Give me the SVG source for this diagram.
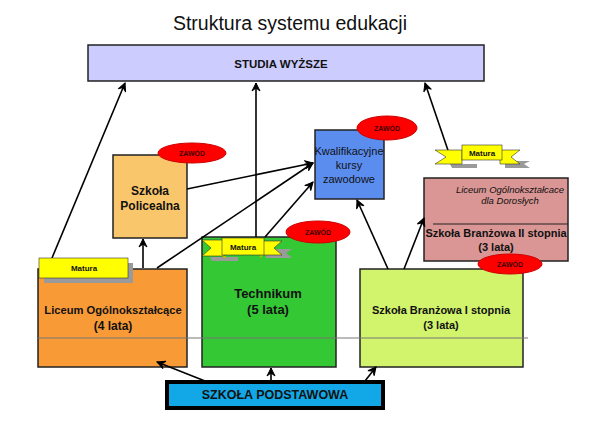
<svg xmlns="http://www.w3.org/2000/svg" width="596" height="432" viewBox="0 0 596 432">
<defs>
<marker id="arr" markerWidth="10" markerHeight="10" refX="9" refY="5" orient="auto" markerUnits="userSpaceOnUse">
<path d="M1,1 L9,5 L1,9 L4,5 Z" fill="#000" stroke="#000" stroke-width="1"/>
</marker>
</defs>
<style>
text{font-family:"Liberation Sans",Arial,sans-serif;text-anchor:middle;fill:#111}
.b{font-weight:bold}
.box{stroke:#222;stroke-width:1.5}
.zaw{fill:#f00;stroke:#c00;stroke-width:1}
.zt{font-size:7px;font-weight:bold;fill:#400}
.mt{font-size:8px;font-weight:bold}
.yel{fill:#ffff00;stroke:#333;stroke-width:0.6}
.sh{fill:#9a9a9a}
.con line{stroke:#000;stroke-width:1.6;marker-end:url(#arr)}
</style>
<rect width="596" height="432" fill="#fff"/>
<text x="290" y="30" font-size="19.5">Struktura systemu edukacji</text>

<g id="studia">
<rect class="box" x="88" y="45" width="396" height="36" fill="#ccccff" stroke-width="2.5"/>
<text x="281" y="68" class="b" font-size="11.5">STUDIA WYŻSZE</text>
</g>

<g id="policealna">
<rect class="box" x="113" y="155" width="74" height="83" fill="#f9c66c"/>
<text x="150" y="195" class="b" font-size="12">Szkoła</text>
<text x="150" y="210" class="b" font-size="12">Policealna</text>
<ellipse class="zaw" cx="192" cy="153" rx="34" ry="10"/>
<text x="192" y="156" class="zt">ZAWÓD</text>
</g>

<g id="kwalifikacyjne">
<rect class="box" x="315" y="130" width="69" height="69" fill="#5b8def"/>
<text x="349" y="155" font-size="11">Kwalifikacyjne</text>
<text x="349" y="169" font-size="11">kursy</text>
<text x="349" y="183" font-size="11">zawodowe</text>
<ellipse class="zaw" cx="387" cy="128" rx="30" ry="12"/>
<text x="387" y="131" class="zt">ZAWÓD</text>
</g>

<g id="liceum-doroslych">
<rect class="box" x="424" y="178" width="144" height="83" fill="#d99694"/>
<text x="510" y="193" font-size="9.5" font-style="italic">Liceum Ogólnokształcace</text>
<text x="510" y="204" font-size="9.5" font-style="italic">dla Dorosłych</text>
<line x1="433" y1="224" x2="568" y2="224" stroke="#222" stroke-width="1.2"/>
<text x="496" y="237" class="b" font-size="11">Szkoła Branżowa II stopnia</text>
<text x="496" y="251" class="b" font-size="11">(3 lata)</text>
</g>

<g id="liceum">
<rect class="box" x="38" y="269" width="149" height="98" fill="#f89a36"/>
<text x="113" y="314" class="b" font-size="11.2">Liceum Ogólnokształcące</text>
<text x="113" y="330" class="b" font-size="12">(4 lata)</text>
</g>

<g id="technikum">
<rect class="box" x="202" y="237" width="134" height="130" fill="#35c835"/>
<text x="268" y="298" class="b" font-size="13">Technikum</text>
<text x="268" y="314" class="b" font-size="13">(5 lata)</text>
</g>

<g id="branzowa1">
<rect class="box" x="360" y="269" width="163" height="98" fill="#d2f36c"/>
<text x="441" y="314" class="b" font-size="11">Szkoła Branżowa I stopnia</text>
<text x="441" y="329" class="b" font-size="11">(3 lata)</text>
</g>

<g id="podstawowa">
<rect x="167" y="382" width="216" height="26" fill="#12a8e8" stroke="#000" stroke-width="4"/>
<text x="275" y="399" class="b" font-size="12.5">SZKOŁA PODSTAWOWA</text>
</g>

<line x1="38" y1="338" x2="528" y2="338" stroke="#777" stroke-width="1"/>

<g class="con" id="connectors">
<line x1="52" y1="258" x2="125" y2="83"/>
<line x1="143" y1="268" x2="143" y2="239"/>
<line x1="157" y1="268" x2="313" y2="163"/>
<line x1="187" y1="189" x2="313" y2="163"/>
<line x1="265" y1="237" x2="313" y2="182"/>
<line x1="256" y1="237" x2="256" y2="83"/>
<line x1="388" y1="269" x2="357" y2="200"/>
<line x1="404" y1="269" x2="424" y2="218"/>
<line x1="453" y1="165" x2="425" y2="83"/>
<line x1="205" y1="381" x2="157" y2="362"/>
<line x1="271" y1="381" x2="271" y2="368"/>
<line x1="365" y1="381" x2="376" y2="367"/>
</g>

<g id="matura-liceum">
<rect class="sh" x="44" y="263" width="89" height="20"/>
<rect class="yel" x="39" y="258" width="89" height="20"/>
<text x="84" y="271" class="mt">Matura</text>
</g>

<g id="matura-technikum">
<polygon class="sh" points="210,257 238,257 238,261 212,261"/>
<polygon class="sh" points="266,249 292,249 286,253 292,258 266,258"/>
<polygon class="yel" points="202,240 224,240 224,256 202,256 211,248"/>
<polygon class="yel" points="262,241 282,241 274,248 282,255 262,255"/>
<polygon fill="#b8b800" points="222,256 226,256 226,259"/>
<polygon fill="#b8b800" points="264,255 260,255 260,258"/>
<rect class="yel" x="222" y="238" width="42" height="17"/>
<text x="243" y="250" class="mt">Matura</text>
</g>

<g id="matura-doroslych">
<polygon class="sh" points="450,164 477,164 477,168 452,168"/>
<polygon class="sh" points="505,161 530,161 524,164 530,168 505,168"/>
<polygon class="yel" points="435,150 462,150 462,164 435,164 446,157"/>
<polygon class="yel" points="500,150 520,150 511,157 520,164 500,164"/>
<rect class="yel" x="462" y="145" width="40" height="15"/>
<text x="482" y="156" class="mt">Matura</text>
</g>

<g id="zawod-technikum">
<ellipse class="zaw" cx="318" cy="232" rx="32" ry="11"/>
<text x="318" y="235" class="zt">ZAWÓD</text>
</g>
<g id="zawod-branzowa2">
<ellipse class="zaw" cx="510" cy="264" rx="32" ry="10"/>
<text x="510" y="267" class="zt">ZAWÓD</text>
</g>
</svg>
